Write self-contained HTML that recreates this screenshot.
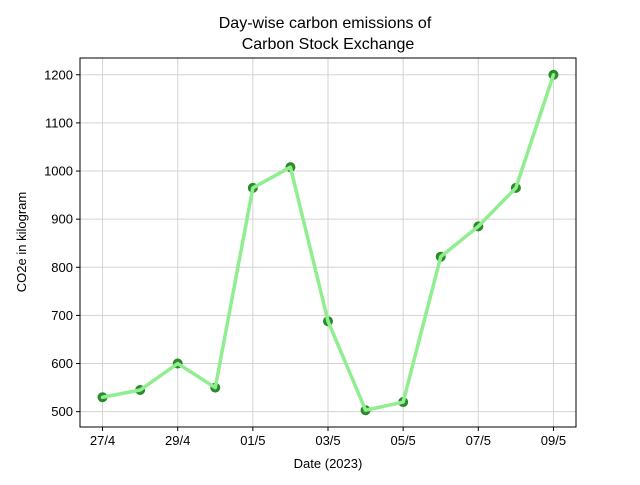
<!DOCTYPE html>
<html><head><meta charset="utf-8"><style>
body{margin:0;background:#fff;}
svg text{font-family:"Liberation Sans","DejaVu Sans",sans-serif;fill:#000;}
</style></head><body>
<svg id="chart" width="640" height="480" viewBox="0 0 640 480" xmlns="http://www.w3.org/2000/svg">
<text x="325" y="28" font-size="16" text-anchor="middle">Day-wise carbon emissions of</text>
<text x="328" y="49" font-size="16" text-anchor="middle">Carbon Stock Exchange</text>
<g id="grid"></g><g id="marks"></g><g id="axes"></g>
<text x="328" y="468" font-size="13" text-anchor="middle">Date (2023)</text>
<text transform="translate(26,242) rotate(-90)" font-size="13" text-anchor="middle">CO2e in kilogram</text>
</svg>
<script>
const dayIndex=[0,1,2,3,4,5,6,7,8,9,10,11,12];
const emissions=[530,545,600,550,965,1008,688,503,520,822,885,965,1200];
const xTickIdx=[0,2,4,6,8,10,12];
const xTickLabels=["27/4","29/4","01/5","03/5","05/5","07/5","09/5"];
const yTicks=[500,600,700,800,900,1000,1100,1200];
const L=80,R=576,T=58,B=427;
const xmin=-0.6,xmax=12.6;
const ymin=Math.min(...emissions),ymax=Math.max(...emissions),pad=(ymax-ymin)*0.05;
const y0=ymin-pad,y1=ymax+pad;
const sx=v=>L+(v-xmin)/(xmax-xmin)*(R-L);
const sy=v=>B-(v-y0)/(y1-y0)*(B-T);
const NS="http://www.w3.org/2000/svg";
function mk(tag,attrs,parent){const e=document.createElementNS(NS,tag);for(const k in attrs)e.setAttribute(k,attrs[k]);parent.appendChild(e);return e;}
const grid=document.getElementById('grid'),marks=document.getElementById('marks'),axes=document.getElementById('axes');
xTickIdx.forEach((d,i)=>{const x=sx(d);
 const g=mk('line',{x1:x,x2:x,y1:T,y2:B,stroke:'#d3d3d3','stroke-width':1},grid);
 
 
 const t=mk('line',{x1:x,x2:x,y1:B,y2:B+4,stroke:'#000'},axes);
 
 
 const tx=mk('text',{x:x,y:B+18,'font-size':13,'text-anchor':'middle'},axes);tx.textContent=xTickLabels[i];
 
 
});
yTicks.forEach(v=>{const y=sy(v);
 const g=mk('line',{x1:L,x2:R,y1:y,y2:y,stroke:'#d3d3d3','stroke-width':1},grid);
 
 
 const t=mk('line',{x1:L-4,x2:L,y1:y,y2:y,stroke:'#000'},axes);
 
 
 const tx=mk('text',{x:L-7,y:y+4.5,'font-size':13,'text-anchor':'end'},axes);tx.textContent=v;
 
 
});
const fr=mk('rect',{x:L,y:T,width:R-L,height:B-T,fill:'none',stroke:'#000','stroke-width':1},axes);


dayIndex.forEach((d,i)=>{
 const c=mk('circle',{cx:sx(d),cy:sy(emissions[i]),r:4.5,fill:'#2e8b2e',stroke:'#228b22'},marks);
 
 
});
const pts=dayIndex.map((d,i)=>sx(d)+','+sy(emissions[i])).join(' ');
const pl=mk('polyline',{points:pts,fill:'none',stroke:'#90ee90','stroke-width':3.5,'stroke-linejoin':'round','stroke-linecap':'round'},marks);


</script>
</body></html>
